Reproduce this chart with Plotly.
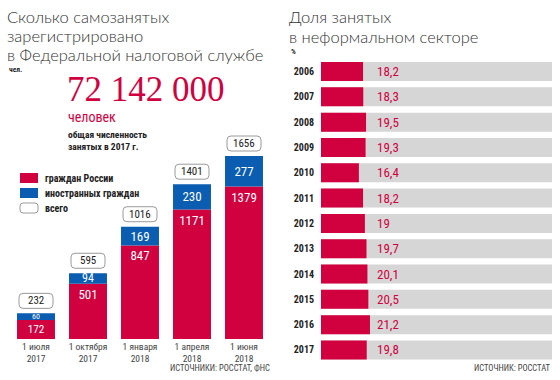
import plotly.graph_objects as go

# ---------------- data ----------------
dates = ["1 июля<br>2017", "1 октября<br>2017", "1 января<br>2018", "1 апреля<br>2018", "1 июня<br>2018"]
russians = [172, 501, 847, 1171, 1379]
foreigners = [60, 94, 169, 230, 277]
totals = [232, 595, 1016, 1401, 1656]

years = ["2006", "2007", "2008", "2009", "2010", "2011", "2012", "2013", "2014", "2015", "2016", "2017"]
informal = [18.2, 18.3, 19.5, 19.3, 16.4, 18.2, 19.0, 19.7, 20.1, 20.5, 21.2, 19.8]
full_scale = [100] * len(years)

RED = "#d1003f"
BLUE = "#0a5db0"
GRAY = "#d6d6d6"
DARK = "#222222"
TITLE_FONT = "Lato"
SANS = "Liberation Sans Narrow, Roboto Condensed, Roboto, sans-serif"

W, H = 560, 380


def fmt(v):
    s = f"{v:.1f}".replace(".", ",")
    return s[:-2] if s.endswith(",0") else s


fig = go.Figure()

# left stacked bars
fig.add_trace(go.Bar(
    x=dates, y=russians, base=[0] * len(russians),
    marker=dict(color=RED, line=dict(width=0)), width=0.73,
    text=[str(v) for v in russians], textposition="inside", insidetextanchor="end",
    textangle=0,
    textfont=dict(color="white", size=13, family=SANS), xaxis="x", yaxis="y",
    showlegend=False, hoverinfo="skip",
))
fig.add_trace(go.Bar(
    x=dates, y=foreigners, base=russians,
    marker=dict(color=BLUE, line=dict(width=0)), width=0.73,
    text=[str(v) for v in foreigners], textposition="inside", insidetextanchor="middle",
    textangle=0, constraintext="none",
    textfont=dict(color="white", size=[8, 12, 13, 13, 13], family=SANS), xaxis="x", yaxis="y",
    showlegend=False, hoverinfo="skip",
))

# right panel: background bars and values
fig.add_trace(go.Bar(
    y=years, x=full_scale, orientation="h", marker=dict(color=GRAY, line=dict(width=0)),
    width=0.75, xaxis="x2", yaxis="y2", showlegend=False, hoverinfo="skip",
))
fig.add_trace(go.Bar(
    y=years, x=informal, orientation="h", marker=dict(color=RED, line=dict(width=0)),
    width=0.75, xaxis="x2", yaxis="y2", showlegend=False, hoverinfo="skip",
))

shapes = []
annotations = []


def rounded_path(x0, y0, x1, y1, r):
    return (f"M{x0+r},{y0} L{x1-r},{y0} Q{x1},{y0} {x1},{y0+r} L{x1},{y1-r} "
            f"Q{x1},{y1} {x1-r},{y1} L{x0+r},{y1} Q{x0},{y1} {x0},{y1-r} "
            f"L{x0},{y0+r} Q{x0},{y0} {x0+r},{y0} Z")


# total boxes above bars
for i, t in enumerate(totals):
    shapes.append(dict(
        type="path", xref="x", yref="y", xsizemode="pixel", ysizemode="pixel",
        xanchor=i, yanchor=t, path=rounded_path(-17, 5, 17, 20, 4),
        line=dict(color="#9a9a9a", width=1), fillcolor="white", layer="above",
    ))
    annotations.append(dict(
        x=i, y=t, xref="x", yref="y", yshift=12.5, text=str(t), showarrow=False,
        font=dict(size=11, color=DARK, family=SANS), xanchor="center", yanchor="middle",
    ))

# value labels in right panel (category serial numbers)
for i, v in enumerate(informal):
    annotations.append(dict(
        x=23.3, y=i, xref="x2", yref="y2", text=fmt(v), showarrow=False,
        xanchor="left", yanchor="middle",
        font=dict(size=13, color=RED, family=SANS),
    ))


def px(x):
    return x / W


def py(y):
    return 1 - y / H


def text(x, y, s, size, color=DARK, family=SANS, anchor="left", weight="normal", va="middle"):
    annotations.append(dict(
        x=px(x), y=py(y), xref="paper", yref="paper", text=s, showarrow=False,
        xanchor=anchor, yanchor=va, font=dict(size=size, color=color, family=family, weight=weight),
    ))


# titles
for i, line in enumerate(["Сколько самозанятых", "зарегистрировано", "в Федеральной налоговой службе"]):
    text(5, 17 + i * 19, line, 16.5, color="#333", family=TITLE_FONT, weight=300)
text(7, 69, "<b>чел.</b>", 7.5)
for i, line in enumerate(["Доля занятых", "в неформальном секторе"]):
    text(287, 17 + i * 19.5, line, 16.5, color="#333", family=TITLE_FONT, weight=300)
text(289, 52, "<b>%</b>", 7.5)

# big number block
text(65, 90, "72 142 000", 35, color=RED, family="Liberation Serif, DejaVu Serif, serif")
text(66, 117, "человек", 14, color=RED, family=SANS)
text(66, 134, "<b>общая численность</b>", 9.5)
text(66, 146, "<b>занятых в 2017 г.</b>", 9.5)

# legend
shapes.append(dict(type="rect", xref="paper", yref="paper", x0=px(20), x1=px(38), y0=py(183), y1=py(173),
                   fillcolor=RED, line=dict(width=0)))
shapes.append(dict(type="rect", xref="paper", yref="paper", x0=px(20), x1=px(38), y0=py(198), y1=py(188),
                   fillcolor=BLUE, line=dict(width=0)))
shapes.append(dict(type="path", xref="paper", yref="paper", xsizemode="pixel", ysizemode="pixel",
                   xanchor=px(20), yanchor=py(213), path=rounded_path(0, 0, 18, 10, 3),
                   fillcolor="white", line=dict(color="#9a9a9a", width=1)))
text(43, 178, "<b>граждан России</b>", 10)
text(43, 193, "<b>иностранных граждан</b>", 10)
text(43, 208, "<b>всего</b>", 10)

# sources
text(272, 368, "ИСТОЧНИКИ: РОССТАТ, ФНС", 8.5, color="#444", anchor="right")
text(553, 368, "ИСТОЧНИК: РОССТАТ", 8.5, color="#444", anchor="right")

fig.update_layout(
    width=W, height=H, margin=dict(l=0, r=0, t=0, b=0, autoexpand=False),
    paper_bgcolor="white", plot_bgcolor="white",
    barmode="overlay",
    shapes=shapes, annotations=annotations,
    xaxis=dict(domain=[px(10), px(270)], range=[-0.5, 4.5], type="category",
               showgrid=False, zeroline=False, showline=False, ticks="", automargin=False,
               tickfont=dict(size=9.5, color="#444", family=SANS), fixedrange=True),
    yaxis=dict(domain=[py(339), py(60)], range=[0, (339 - 60) / 0.1105],
               visible=False, fixedrange=True, automargin=False),
    xaxis2=dict(domain=[px(321), px(552)], range=[0, 100], visible=False,
                anchor="y2", fixedrange=True, automargin=False),
    yaxis2=dict(domain=[py(362.6), py(58.9)], type="category",
                categoryorder="array", categoryarray=years, range=[11.5, -0.5],
                anchor="x2", showgrid=False, zeroline=False, showline=False, ticks="",
                ticklabelstandoff=6, automargin=False,
                tickfont=dict(size=10, color=DARK, family=SANS, weight="bold"), fixedrange=True),
)

fig.write_html("out.html", config={"displayModeBar": False},
               post_script="document.body.style.margin='0';document.body.style.padding='0';")
